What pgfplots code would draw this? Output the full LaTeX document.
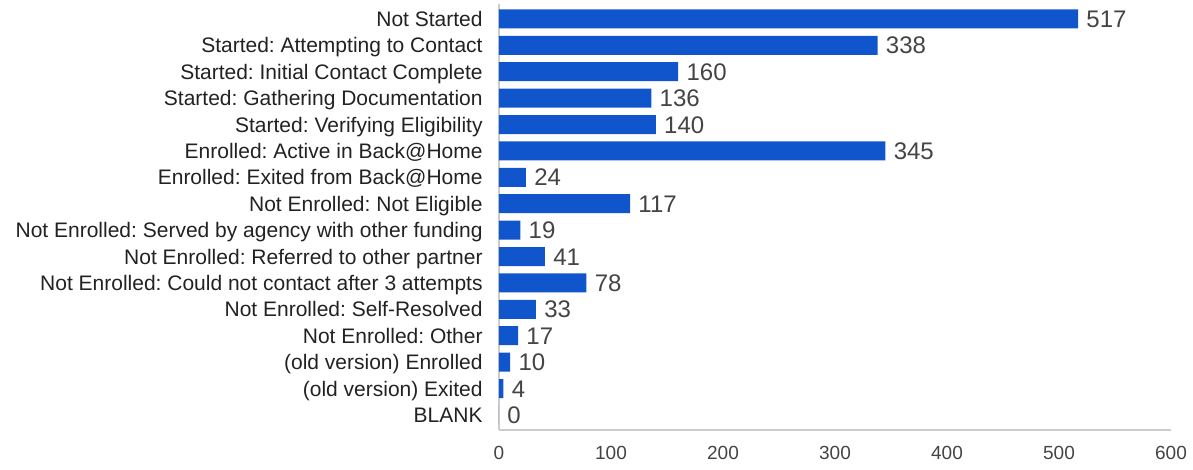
\documentclass[border=0pt]{standalone}
\usepackage{pgfplots}
\pgfplotsset{compat=1.18}
\usepackage{fontspec}
\setmainfont{Liberation Sans}
\definecolor{barblue}{HTML}{1155CC}
\definecolor{axgray}{HTML}{CCCCCC}
\definecolor{labdark}{HTML}{222222}
\definecolor{numgray}{HTML}{444444}
\begin{document}
\frenchspacing
\begin{tikzpicture}
\useasboundingbox (-249.5pt,-20pt) rectangle (347pt,215pt);
\begin{axis}[
  at={(0,0)}, anchor=south west,
  scale only axis,
  width=336pt, height=212.8pt,
  xbar, bar width=9.5pt,
  xmin=0, xmax=600,
  ymin=-0.55, ymax=15.57,
  y dir=reverse,
  axis x line*=bottom, axis y line*=left,
  axis line style={axgray, line width=0.8pt, -},
  xtick={0,100,200,300,400,500,600},
  major tick length=0pt,
  ytick={0,...,15},
  yticklabels={Not Started,Started: Attempting to Contact,Started: Initial Contact Complete,Started: Gathering Documentation,Started: Verifying Eligibility,Enrolled: Active in Back@Home,Enrolled: Exited from Back@Home,Not Enrolled: Not Eligible,Not Enrolled: Served by agency with other funding,Not Enrolled: Referred to other partner,Not Enrolled: Could not contact after 3 attempts,Not Enrolled: Self-Resolved,Not Enrolled: Other,(old version) Enrolled,(old version) Exited,BLANK},
  yticklabel style={font=\fontsize{10.5pt}{12pt}\selectfont\frenchspacing, text=labdark, anchor=base east, inner sep=0pt, xshift=-8pt, yshift=-3.76pt},
  xticklabel style={font=\fontsize{9.5pt}{11pt}\selectfont, text=numgray, anchor=base, inner sep=0pt, yshift=-14.5pt},
  /pgf/number format/assume math mode=true,
  nodes near coords,
  nodes near coords style={font=\fontsize{12pt}{14pt}\selectfont, text=numgray, anchor=base west, inner sep=0pt, xshift=4pt, yshift=-4.3pt},
  clip=false,
]
\addplot[fill=barblue, draw=none] coordinates {
(517,0) (338,1) (160,2) (136,3) (140,4) (345,5) (24,6) (117,7) (19,8) (41,9) (78,10) (33,11) (17,12) (10,13) (4,14) (0,15)
};
\end{axis}
\end{tikzpicture}
\end{document}
